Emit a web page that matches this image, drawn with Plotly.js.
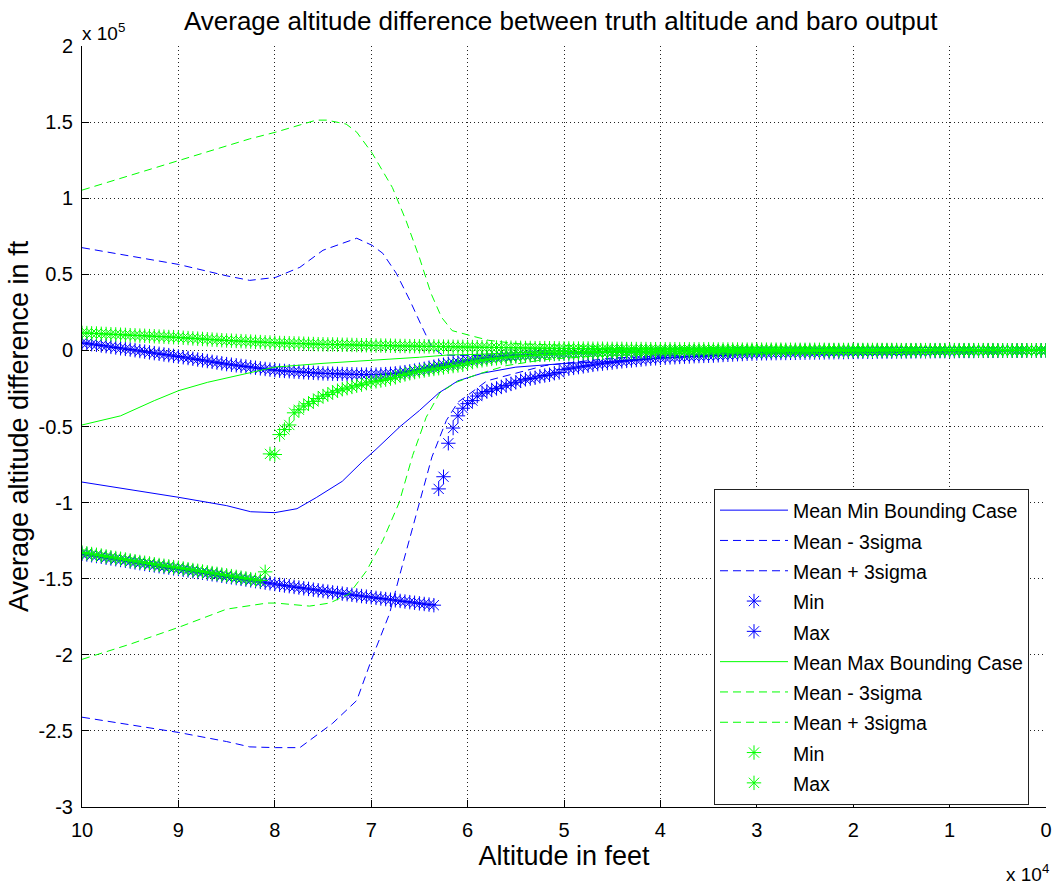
<!DOCTYPE html>
<html><head><meta charset="utf-8">
<script src="https://cdn.plot.ly/plotly-3.0.1.min.js"></script>
<style>html,body{margin:0;padding:0;background:#fff}#chart{width:1052px;height:888px}</style>
</head><body><div id="chart"></div>
<script>
// ---- tick labels ----
const altTickVals = [0,10000,20000,30000,40000,50000,60000,70000,80000,90000,100000];
const altTickText = ['0','1','2','3','4','5','6','7','8','9','10'];
const diffTickVals = [-300000,-250000,-200000,-150000,-100000,-50000,0,50000,100000,150000,200000];
const diffTickText = ['-3','-2.5','-2','-1.5','-1','-0.5','0','0.5','1','1.5','2'];

// ---- star series altitude grid (ft) ----
const starAltitudeFt = [
100000,99500,99000,98500,98000,97500,97000,96500,96000,95500,
95000,94500,94000,93500,93000,92500,92000,91500,91000,90500,
90000,89500,89000,88500,88000,87500,87000,86500,86000,85500,
85000,84500,84000,83500,83000,82500,82000,81500,81000,80500,
80000,79500,79000,78500,78000,77500,77000,76500,76000,75500,
75000,74500,74000,73500,73000,72500,72000,71500,71000,70500,
70000,69500,69000,68500,68000,67500,67000,66500,66000,65500,
65000,64500,64000,63500,63000,62500,62000,61500,61000,60500,
60000,59500,59000,58500,58000,57500,57000,56500,56000,55500,
55000,54500,54000,53500,53000,52500,52000,51500,51000,50500,
50000,49500,49000,48500,48000,47500,47000,46500,46000,45500,
45000,44500,44000,43500,43000,42500,42000,41500,41000,40500,
40000,39500,39000,38500,38000,37500,37000,36500,36000,35500,
35000,34500,34000,33500,33000,32500,32000,31500,31000,30500,
30000,29500,29000,28500,28000,27500,27000,26500,26000,25500,
25000,24500,24000,23500,23000,22500,22000,21500,21000,20500,
20000,19500,19000,18500,18000,17500,17000,16500,16000,15500,
15000,14500,14000,13500,13000,12500,12000,11500,11000,10500,
10000,9500,9000,8500,8000,7500,7000,6500,6000,5500,
5000,4500,4000,3500,3000,2500,2000,1500,1000,500,
0];

// ---- Min bounding case (blue) ----
const minCaseMeanAlt = [100000,95000,90000,85000,82500,80000,77700,75700,73000,70900,69500,67000,65000,63000,61000,58500,55000,50000,46000,40000,30000,20000,10000,0];
const minCaseMean = [-86500,-91500,-96500,-102000,-106000,-106600,-104000,-96700,-86000,-73000,-65000,-50000,-39500,-28000,-20000,-15000,-11000,-8600,-7500,-5000,-2500,-1000,-400,0];

const minCaseLowerAlt = [100000,95000,90000,85000,82600,79900,77400,74000,71500,69900,68100,67100,65700,64700,63700,62200,61000,60100,58000,55000,52000,45000,35000,25000,10000,0];
const minCaseLower = [-241000,-246000,-251000,-257000,-260500,-261000,-261000,-245000,-230000,-202000,-173000,-149000,-116000,-94000,-70000,-46000,-34000,-30000,-20000,-15000,-10000,-5000,-2500,-1000,0,0];

const minCaseUpperAlt = [100000,95000,90000,85000,82600,79900,77400,75000,71500,69900,68800,67400,66000,64700,63700,62600,60000,55000,50000,40000,30000,0];
const minCaseUpper = [67500,62000,56500,49000,46000,48000,54600,65800,73700,69000,63800,50700,33000,15100,2000,-3000,-3500,-3000,-2000,-500,-200,0];

const minCaseMin = [
-133600,-134100,-134600,-135100,-135600,-136200,-136700,-137200,-137700,-138200,
-138800,-139300,-139800,-140300,-140800,-141300,-141800,-142300,-142700,-143200,
-143600,-144100,-144600,-145100,-145600,-146100,-146600,-147100,-147600,-148100,
-148600,-149100,-149600,-150100,-150600,-151100,-151600,-152100,-152600,-153000,
-153500,-154000,-154500,-154900,-155400,-155800,-156300,-156700,-157200,-157600,
-158100,-158500,-159000,-159400,-159800,-160200,-160600,-161000,-161400,-161800,
-162200,-162600,-163000,-163400,-163800,-164200,-164600,-165000,-165400,-165800,
-166200,-166600,-167000,-167400,-91000,-83000,-61000,-51000,-43000,-38000,
-35000,-33000,-30000,-28000,-27000,-26000,-25000,-24000,-23000,-22000,
-21000,-20000,-19000,-18500,-18000,-17000,-16500,-16000,-15000,-14500,
-12500,-12000,-11500,-11000,-10500,-10000,-9500,-9000,-8700,-8300,
-8000,-7600,-7200,-6900,-6600,-6300,-6000,-5700,-5400,-5200,
-5000,-4800,-4600,-4500,-4300,-4100,-4000,-3800,-3700,-3600,
-3500,-3400,-3200,-3000,-2900,-2700,-2500,-2400,-2200,-2100,
-2000,-1900,-1900,-1800,-1800,-1700,-1700,-1600,-1600,-1500,
-1500,-1400,-1400,-1300,-1300,-1200,-1200,-1100,-1100,-1000,
-1000,-1000,-900,-900,-900,-800,-800,-800,-800,-700,
-700,-700,-700,-600,-600,-600,-600,-500,-500,-500,
-500,-500,-400,-400,-400,-400,-300,-300,-300,-300,
-300,-200,-200,-200,-200,-100,-100,-100,-100,-100,
0];

const minCaseMax = [
5000,4600,4100,3700,3200,2800,2300,1900,1400,1000,
600,100,-400,-800,-1300,-1800,-2200,-2700,-3100,-3600,
-4000,-4500,-5000,-5500,-6000,-6500,-7000,-7500,-8000,-8500,
-9000,-9400,-9800,-10200,-10600,-11000,-11400,-11800,-12200,-12600,
-13000,-13300,-13500,-13700,-13900,-14100,-14300,-14500,-14700,-14900,
-15100,-15200,-15300,-15400,-15500,-15600,-15700,-15800,-15900,-15900,
-16000,-15900,-15800,-15600,-15400,-15100,-14700,-14300,-13800,-13300,
-12700,-12100,-11400,-10700,-10000,-9400,-8800,-8200,-7700,-7200,
-6700,-6200,-5700,-5300,-4900,-4600,-4300,-4000,-3800,-3600,
-3400,-3200,-3000,-2900,-2700,-2600,-2400,-2300,-2200,-2100,
-2000,-1900,-1800,-1800,-1700,-1600,-1500,-1500,-1400,-1400,
-1300,-1300,-1200,-1200,-1100,-1100,-1000,-1000,-1000,-900,
-900,-900,-800,-800,-800,-800,-700,-700,-700,-700,
-700,-600,-600,-600,-600,-500,-500,-500,-500,-500,
-500,-400,-400,-400,-400,-400,-400,-300,-300,-300,
-300,-300,-300,-300,-300,-200,-200,-200,-200,-200,
-200,-200,-200,-200,-200,-200,-200,-200,-100,-100,
-100,-100,-100,-100,-100,-100,-100,-100,-100,-100,
-100,-100,-100,-100,-100,-100,-100,-100,-100,-100,
-100,-100,-100,-100,-100,0,0,0,0,0,
0];

// ---- Max bounding case (green) ----
const maxCaseMeanAlt = [100000,96000,92500,90000,87000,84000,80000,75000,70000,65000,62000,59000,55000,50000,40000,20000,0];
const maxCaseMean = [-49000,-43000,-33000,-26500,-21000,-16500,-11000,-8500,-6600,-4500,-3000,-2600,-1500,-800,-300,-100,0];

const maxCaseLowerAlt = [100000,95000,90000,85000,80800,79900,76400,74300,72300,70500,68800,67100,65700,64300,62900,61200,59100,56000,52000,45000,35000,20000,0];
const maxCaseLower = [-203000,-193000,-182000,-170000,-166000,-166000,-168000,-166000,-160000,-145000,-125000,-100000,-69000,-44000,-28000,-21000,-16000,-10000,-6000,-3000,-1500,-500,0];

const maxCaseUpperAlt = [100000,95000,90000,85000,82600,79900,75700,74600,72600,71500,69900,67800,66400,65000,63800,62700,61600,59800,57800,55000,50000,45000,40000,30000,20000,0];
const maxCaseUpper = [105300,115000,124500,134000,139000,143400,151300,151300,148700,143400,129600,107000,85500,61000,37500,21700,13000,9900,6600,4500,3000,2000,1500,800,400,0];

const maxCaseMin = [
-132800,-133300,-133800,-134300,-134800,-135400,-135900,-136400,-136900,-137400,
-138000,-138500,-139000,-139500,-140000,-140500,-141000,-141500,-141900,-142400,
-142800,-143300,-143800,-144300,-144800,-145300,-145800,-146300,-146800,-147300,
-147800,-148300,-148800,-149300,-149800,-150300,-150800,-151200,-145500,-68000,
-68400,-55300,-52000,-49000,-41000,-39000,-36500,-35000,-33500,-31600,
-30000,-29000,-27500,-26500,-25500,-24800,-24000,-23200,-22500,-21500,
-20800,-20300,-19800,-19200,-18500,-17700,-16500,-15800,-15000,-14300,
-13700,-13200,-12700,-12200,-11700,-11200,-10700,-10300,-9900,-9500,
-8500,-7700,-7000,-6500,-6000,-5600,-5200,-4900,-4600,-4300,
-4000,-3700,-3500,-3300,-3100,-2900,-2700,-2600,-2400,-2300,
-2200,-2100,-2000,-1900,-1800,-1700,-1600,-1500,-1500,-1400,
-1300,-1300,-1200,-1200,-1100,-1100,-1000,-1000,-900,-900,
-900,-800,-800,-800,-700,-700,-700,-600,-600,-600,
-600,-500,-500,-500,-500,-400,-400,-400,-400,-400,
-300,-300,-300,-300,-300,-300,-300,-300,-300,-300,
-300,-300,-300,-200,-200,-200,-200,-200,-200,-200,
-200,-200,-200,-200,-200,-100,-100,-100,-100,-100,
-100,-100,-100,-100,-100,-100,-100,-100,-100,-100,
-100,-100,-100,-100,-100,-100,-100,-100,-100,-100,
-100,-100,-100,-100,-100,0,0,0,0,0,
0];

const maxCaseMax = [
11500,11400,11200,11100,10900,10800,10600,10500,10300,10200,
10000,9900,9700,9600,9400,9300,9100,9000,8800,8700,
8500,8300,8100,7900,7700,7500,7300,7100,6900,6700,
6500,6400,6200,6100,5900,5800,5600,5500,5300,5200,
5000,4900,4800,4700,4600,4500,4400,4300,4200,4100,
4000,3900,3900,3800,3700,3700,3600,3500,3400,3400,
3300,3200,3200,3100,3100,3000,2900,2900,2800,2800,
2700,2700,2600,2600,2500,2500,2400,2400,2300,2300,
2200,2200,2100,2100,2000,2000,1900,1900,1800,1800,
1700,1700,1600,1600,1500,1500,1500,1400,1400,1300,
1300,1300,1200,1200,1200,1200,1100,1100,1100,1000,
1000,1000,1000,900,900,900,900,900,800,800,
800,800,800,800,700,700,700,700,700,700,
700,600,600,600,600,600,600,500,500,500,
500,500,500,500,500,500,400,400,400,400,
400,400,400,400,400,300,300,300,300,300,
300,300,300,300,300,300,300,300,300,300,
200,200,200,200,200,200,200,200,200,200,
200,200,200,200,200,200,200,200,200,200,
100,100,100,100,100,100,100,100,100,100,
100];

const FONT = '"Liberation Sans", Arial, Helvetica, sans-serif';
const BLUE = '#0000ff', GREEN = '#00ff00';
const lg = s => '<span style="font-size:19.5px">' + s + '</span>';
const star = c => ({symbol:'asterisk-open', size:12, color:c, line:{width:1, color:c}});

const traces = [
  {x:minCaseMeanAlt, y:minCaseMean, name:lg('Mean Min Bounding Case'), mode:'lines', line:{color:BLUE, width:1}},
  {x:minCaseLowerAlt, y:minCaseLower, name:lg('Mean - 3sigma'), mode:'lines', line:{color:BLUE, width:1, dash:'8px,5px'}},
  {x:minCaseUpperAlt, y:minCaseUpper, name:lg('Mean + 3sigma'), mode:'lines', line:{color:BLUE, width:1, dash:'8px,5px'}},
  {x:starAltitudeFt, y:minCaseMin, name:lg('Min'), mode:'markers', marker:star(BLUE)},
  {x:starAltitudeFt, y:minCaseMax, name:lg('Max'), mode:'markers', marker:star(BLUE)},
  {x:maxCaseMeanAlt, y:maxCaseMean, name:lg('Mean Max Bounding Case'), mode:'lines', line:{color:GREEN, width:1}},
  {x:maxCaseLowerAlt, y:maxCaseLower, name:lg('Mean - 3sigma'), mode:'lines', line:{color:GREEN, width:1, dash:'8px,5px'}},
  {x:maxCaseUpperAlt, y:maxCaseUpper, name:lg('Mean + 3sigma'), mode:'lines', line:{color:GREEN, width:1, dash:'8px,5px'}},
  {x:starAltitudeFt, y:maxCaseMin, name:lg('Min'), mode:'markers', marker:star(GREEN)},
  {x:starAltitudeFt, y:maxCaseMax, name:lg('Max'), mode:'markers', marker:star(GREEN)}
];

const axisCommon = {
  ticks:'inside', ticklen:7, tickcolor:'#000', tickwidth:1,
  showline:true, linecolor:'#000', linewidth:1,
  showgrid:true, gridcolor:'#222', griddash:'1px,3px', gridwidth:1,
  zeroline:false, automargin:false, ticklabeloverflow:'allow',
  tickfont:{family:FONT, size:20, color:'#000'}
};

const layout = {
  width:1052, height:888,
  margin:{l:82, r:6, t:46, b:81},
  paper_bgcolor:'#fff', plot_bgcolor:'#fff',
  font:{family:FONT, color:'#000'},
  title:{text:'Average altitude difference between truth altitude and baro output',
         font:{family:FONT, size:26, color:'#000'},
         x:0.533, xref:'container', xanchor:'center', y:0.977, yref:'container', yanchor:'middle'},
  xaxis:Object.assign({}, axisCommon, {
    range:[100000, 0], tickmode:'array', tickvals:altTickVals, ticktext:altTickText,
    ticklabelstandoff:5,
    title:{text:'Altitude in feet', font:{family:FONT, size:27, color:'#000'}, standoff:6}
  }),
  yaxis:Object.assign({}, axisCommon, {
    range:[-300000, 200000], tickmode:'array', tickvals:diffTickVals, ticktext:diffTickText,
    ticklabelstandoff:4,
    title:{text:'Average altitude difference in ft', font:{family:FONT, size:27, color:'#000'}, standoff:2}
  }),
  showlegend:true,
  legend:{x:(714-82)/964, y:(807-805)/761, xanchor:'left', yanchor:'bottom',
          bgcolor:'#fff', bordercolor:'#222', borderwidth:1,
          font:{family:FONT, size:21, color:'#000'}, itemwidth:68, tracegroupgap:0},
  annotations:[
    {xref:'paper', yref:'paper', x:0, y:1, xanchor:'left', yanchor:'bottom', showarrow:false,
     text:'x 10<sup>5</sup>', font:{family:FONT, size:19, color:'#000'}, xshift:-2, yshift:0},
    {xref:'paper', yref:'paper', x:1, y:0, xanchor:'right', yanchor:'top', showarrow:false,
     text:'x 10<sup>4</sup>', font:{family:FONT, size:19, color:'#000'}, xshift:5, yshift:-52}
  ]
};

Plotly.newPlot('chart', traces, layout, {displayModeBar:false, staticPlot:true});
</script></body></html>
